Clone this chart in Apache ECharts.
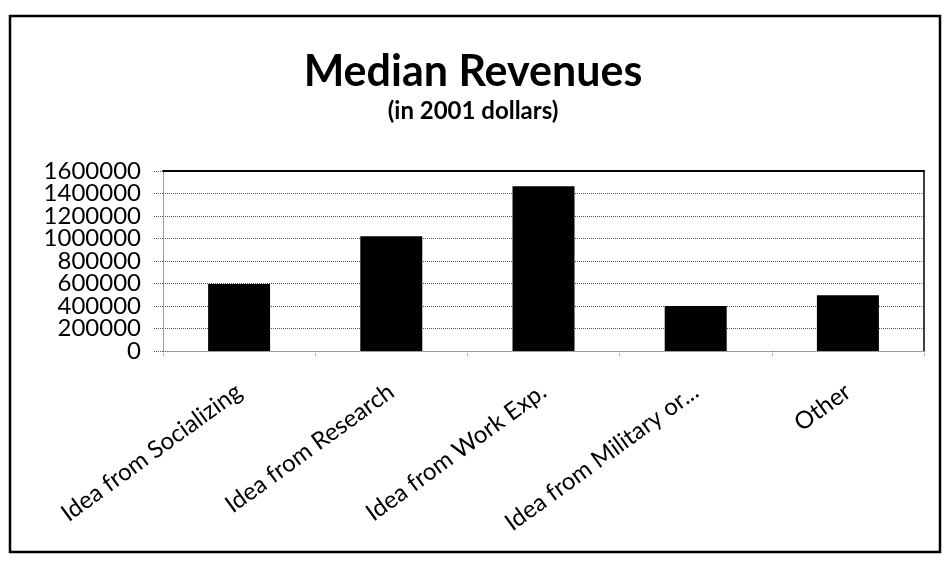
<!DOCTYPE html>
<html>
<head>
<meta charset="utf-8">
<script src="https://cdn.jsdelivr.net/npm/echarts@6/dist/echarts.min.js"></script>
<style>
  html, body { margin: 0; padding: 0; background: #fff; }
  #chart { width: 946px; height: 563px; }
</style>
</head>
<body>
<div id="chart"></div>
<script>
// Median revenues by source of the business idea (2001 dollars)
const categories = [
  'Idea from Socializing',
  'Idea from Research',
  'Idea from Work Exp.',
  'Idea from Military or...',
  'Other'
];
const medianRevenues = [595000, 1020000, 1465000, 400000, 495000];
const yTicks = { min: 0, max: 1600000, interval: 200000 };
const yTickLabels = ['0', '200000', '400000', '600000', '800000',
                     '1000000', '1200000', '1400000', '1600000'];

const chart = echarts.init(document.getElementById('chart'));
const FONT = 'Lato';

chart.setOption({
  backgroundColor: '#ffffff',
  animation: false,
  title: [
    {
      text: 'Median Revenues',
      left: 'center',
      top: 46,
      textStyle: { fontFamily: FONT, fontWeight: 'bold', fontSize: 43, color: '#000' }
    },
    {
      text: '(in 2001 dollars)',
      left: 'center',
      top: 94,
      textStyle: { fontFamily: FONT, fontWeight: 'bold', fontSize: 24, color: '#000' }
    }
  ],
  graphic: [
    {
      type: 'rect',
      shape: { x: 10, y: 16, width: 930, height: 536 },
      style: { fill: 'none', stroke: '#000', lineWidth: 2.5 },
      silent: true
    }
  ],
  grid: { left: 163, right: 22, top: 171, bottom: 212 },
  xAxis: [
    {
      type: 'category',
      data: categories,
      boundaryGap: true,
      axisLine: { show: true, lineStyle: { color: '#888', type: 'dotted', width: 1 } },
      axisTick: { show: true, length: 6, lineStyle: { color: '#888', type: 'dotted' } },
      axisLabel: {
        rotate: 36,
        margin: 38,
        fontFamily: FONT,
        fontSize: 24,
        color: '#000',
        interval: 0
      }
    },
    {
      // dark frame line along the top of the plot area
      type: 'category',
      position: 'top',
      data: categories,
      axisLine: { show: true, onZero: false, lineStyle: { color: '#000', width: 2 } },
      axisTick: { show: false },
      axisLabel: { show: false }
    }
  ],
  yAxis: [
    {
      // value scale: gridlines, ticks and the bars
      type: 'value',
      min: yTicks.min,
      max: yTicks.max,
      interval: yTicks.interval,
      axisLine: { show: true, lineStyle: { color: '#888', type: 'dotted', width: 1 } },
      axisTick: { show: true, length: 9, lineStyle: { color: '#555', type: 'dotted' } },
      axisLabel: { show: false },
      splitLine: { show: true, lineStyle: { color: '#555', type: 'dotted', width: 1 } }
    },
    {
      type: 'value',
      position: 'right',
      min: yTicks.min,
      max: yTicks.max,
      interval: yTicks.interval,
      axisLine: { show: true, lineStyle: { color: '#000', width: 1.5 } },
      axisTick: { show: false },
      axisLabel: { show: false },
      splitLine: { show: false }
    },
    {
      // tick labels, one per gridline, all kept even though they sit tightly
      type: 'category',
      position: 'left',
      data: yTickLabels,
      boundaryGap: false,
      axisLine: { show: false },
      axisTick: { show: false },
      splitLine: { show: false },
      axisLabel: {
        interval: 0,
        margin: 22,
        fontFamily: FONT,
        fontSize: 24,
        color: '#000'
      }
    }
  ],
  series: [
    {
      type: 'bar',
      data: medianRevenues,
      barWidth: 62,
      itemStyle: { color: '#000' },
      z: 3
    }
  ]
});
</script>
</body>
</html>
